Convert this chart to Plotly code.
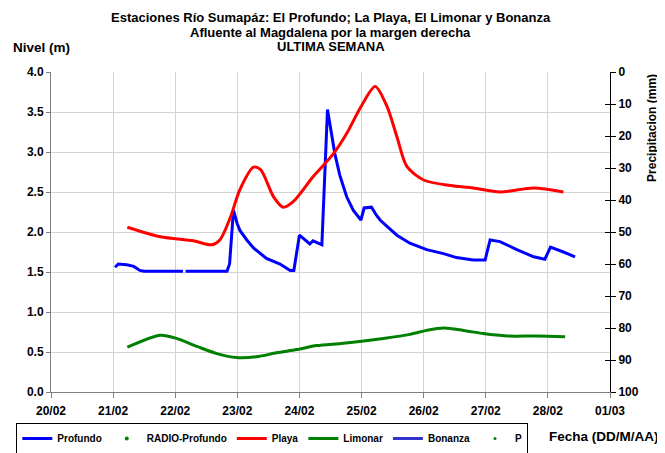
import plotly.graph_objects as go

# Profundo (nivel, m)
profundo_fecha = [
    "2013-02-21 00:45", "2013-02-21 02:00", "2013-02-21 05:15", "2013-02-21 08:00",
    "2013-02-21 10:20", "2013-02-21 12:00", "2013-02-22 03:00", "2013-02-22 03:30",
    "2013-02-22 04:00", "2013-02-22 20:00", "2013-02-22 21:00", "2013-02-22 22:30",
    "2013-02-23 00:00", "2013-02-23 01:00", "2013-02-23 03:40", "2013-02-23 06:15",
    "2013-02-23 11:15", "2013-02-23 16:30", "2013-02-23 20:25", "2013-02-23 21:50",
    "2013-02-24 00:00", "2013-02-24 02:10", "2013-02-24 04:00", "2013-02-24 05:15",
    "2013-02-24 08:00", "2013-02-24 08:40", "2013-02-24 10:50", "2013-02-24 13:40",
    "2013-02-24 15:35", "2013-02-24 18:15", "2013-02-24 20:50", "2013-02-24 23:45",
    "2013-02-25 01:00", "2013-02-25 03:50", "2013-02-25 05:45", "2013-02-25 07:10",
    "2013-02-25 09:50", "2013-02-25 13:40", "2013-02-25 18:40", "2013-02-26 01:10",
    "2013-02-26 07:40", "2013-02-26 12:40", "2013-02-26 19:10", "2013-02-26 23:45",
    "2013-02-27 01:40", "2013-02-27 05:30", "2013-02-27 12:00", "2013-02-27 18:30",
    "2013-02-27 22:50", "2013-02-28 01:00", "2013-02-28 06:00", "2013-02-28 10:30",
]
profundo_nivel = [
    1.56, 1.60, 1.59, 1.57,
    1.52, 1.51, 1.51, None,
    1.51, 1.51, 1.60, 2.27,
    2.10, 2.02, 1.90, 1.80,
    1.67, 1.60, 1.52, 1.52,
    1.96, 1.90, 1.85, 1.89,
    1.85, 1.84, 3.53, 2.98,
    2.71, 2.44, 2.27, 2.15,
    2.30, 2.31, 2.21, 2.15,
    2.07, 1.96, 1.86, 1.78,
    1.73, 1.68, 1.65, 1.65,
    1.90, 1.88, 1.78, 1.69,
    1.66, 1.81, 1.75, 1.69,
]

# Playa (nivel, m)
playa_fecha = [
    "2013-02-21 05:30", "2013-02-21 18:15", "2013-02-22 07:00", "2013-02-22 14:10",
    "2013-02-22 17:15", "2013-02-22 21:10", "2013-02-23 01:00", "2013-02-23 06:15",
    "2013-02-23 09:00", "2013-02-23 14:00", "2013-02-23 17:45", "2013-02-23 21:35",
    "2013-02-24 05:15", "2013-02-24 13:10", "2013-02-24 18:15", "2013-02-24 23:30",
    "2013-02-25 05:15", "2013-02-25 09:50", "2013-02-25 13:40", "2013-02-25 17:30",
    "2013-02-26 00:00", "2013-02-26 10:20", "2013-02-26 19:10", "2013-02-27 05:30",
    "2013-02-27 18:30", "2013-02-28 06:00",
]
playa_nivel = [
    2.06, 1.94, 1.89, 1.84,
    1.90, 2.17, 2.53, 2.81,
    2.78, 2.44, 2.31, 2.38,
    2.69, 2.98, 3.23, 3.55,
    3.82, 3.57, 3.19, 2.82,
    2.65, 2.58, 2.55, 2.50,
    2.55, 2.50,
]

# Limonar (nivel, m)
limonar_fecha = [
    "2013-02-21 05:30", "2013-02-21 18:15", "2013-02-22 00:30", "2013-02-22 08:25",
    "2013-02-22 16:05", "2013-02-22 23:45", "2013-02-23 07:25", "2013-02-23 15:10",
    "2013-02-23 23:00", "2013-02-24 06:40", "2013-02-24 17:00", "2013-02-25 08:25",
    "2013-02-25 18:40", "2013-02-26 01:10", "2013-02-26 07:40", "2013-02-26 15:20",
    "2013-02-26 23:00", "2013-02-27 08:10", "2013-02-27 19:40", "2013-02-28 06:40",
]
limonar_nivel = [
    0.56, 0.71, 0.67, 0.57,
    0.48, 0.43, 0.44, 0.49,
    0.53, 0.58, 0.61, 0.67,
    0.72, 0.77, 0.80, 0.77,
    0.73, 0.70, 0.70, 0.69,
]

dias = ["2013-02-20", "2013-02-21", "2013-02-22", "2013-02-23", "2013-02-24",
        "2013-02-25", "2013-02-26", "2013-02-27", "2013-02-28", "2013-03-01"]
dias_txt = ["20/02", "21/02", "22/02", "23/02", "24/02",
            "25/02", "26/02", "27/02", "28/02", "01/03"]

titulos = ["Estaciones Río Sumapáz: El Profundo; La Playa, El Limonar y Bonanza",
           "Afluente al Magdalena por la margen derecha",
           "ULTIMA SEMANA"]

fuente = "Liberation Sans, Arial, sans-serif"
negrita = dict(family=fuente, size=12, color="black", weight="bold")

fig = go.Figure()
fig.add_trace(go.Scatter(x=profundo_fecha, y=profundo_nivel, name="Profundo", mode="lines",
                         line=dict(color="#0000FF", width=3)))
fig.add_trace(go.Scatter(x=[None], y=[None], name="RADIO-Profundo", mode="markers",
                         marker=dict(color="#008000", size=4)))
fig.add_trace(go.Scatter(x=playa_fecha, y=playa_nivel, name="Playa", mode="lines",
                         line=dict(color="#FF0000", width=3, shape="spline", smoothing=0.8)))
fig.add_trace(go.Scatter(x=limonar_fecha, y=limonar_nivel, name="Limonar", mode="lines",
                         line=dict(color="#008000", width=3, shape="spline", smoothing=0.8)))
fig.add_trace(go.Scatter(x=[None], y=[None], name="Bonanza", mode="lines",
                         line=dict(color="#3333CC", width=3)))
fig.add_trace(go.Scatter(x=[None], y=[None], name="P", mode="markers", yaxis="y2",
                         marker=dict(color="#008000", size=3)))
# eje auxiliar solo para las marcas interiores del eje de precipitacion
fig.add_trace(go.Scatter(x=[None], y=[None], yaxis="y3", showlegend=False, hoverinfo="skip"))

# la pagina deja 8 px de margen en el body: la figura se dibuja 8 px mas pequena
fig.update_layout(
    width=657, height=445,
    margin=dict(l=43, r=55, t=64, b=61, autoexpand=False),
    paper_bgcolor="white", plot_bgcolor="white",
    font=dict(family=fuente, size=12, color="black"),
    showlegend=True,
    legend=dict(orientation="h", x=-0.062, y=-0.097, xanchor="left", yanchor="top",
                bordercolor="black", borderwidth=1,
                font=dict(family=fuente, size=10, color="black", weight="bold"),
                itemwidth=30, tracegroupgap=0),
    xaxis=dict(type="date", range=["2013-02-20", "2013-03-01"],
               tickvals=dias, ticktext=dias_txt, tickfont=negrita, ticklabelstandoff=3,
               showgrid=True, gridcolor="#d3d3d3", gridwidth=1,
               showline=True, linecolor="#808080", ticks="outside", ticklen=5,
               tickcolor="#808080", zeroline=False),
    yaxis=dict(range=[0, 4], dtick=0.5, tickformat=".1f", tickfont=negrita,
               showgrid=True, gridcolor="#d3d3d3", gridwidth=1,
               showline=True, linecolor="#808080", ticks="outside", ticklen=4,
               tickcolor="#808080", zeroline=False),
    yaxis2=dict(overlaying="y", side="right", range=[100, 0], dtick=10, tickfont=negrita,
                showgrid=False, showline=True, linecolor="black",
                ticks="outside", ticklen=5, tickcolor="black", zeroline=False),
    yaxis3=dict(overlaying="y", side="right", range=[100, 0], dtick=10,
                showticklabels=False, showgrid=False, showline=False,
                ticks="inside", ticklen=5, tickcolor="black", zeroline=False),
)

for texto, ypos in zip(titulos, [1.169, 1.125, 1.081]):
    fig.add_annotation(text=texto, xref="paper", yref="paper", x=0.5, y=ypos,
                       xanchor="center", yanchor="middle", showarrow=False,
                       font=dict(family=fuente, size=13, color="black", weight="bold"))
fig.add_annotation(text="Nivel (m)", xref="paper", yref="paper", x=-0.072, y=1.078,
                   xanchor="left", yanchor="middle", showarrow=False,
                   font=dict(family=fuente, size=13.5, color="black", weight="bold"))
fig.add_annotation(text="Precipitacion (mm)", xref="paper", yref="paper", x=1.075, y=1.0,
                   xanchor="center", yanchor="top", textangle=-90, showarrow=False,
                   font=negrita)
fig.add_annotation(text="Fecha (DD/M/AA)", xref="paper", yref="paper", x=1.092, y=-0.14,
                   xanchor="right", yanchor="middle", showarrow=False,
                   font=dict(family=fuente, size=13.5, color="black", weight="bold"))

fig.write_html("out.html")
